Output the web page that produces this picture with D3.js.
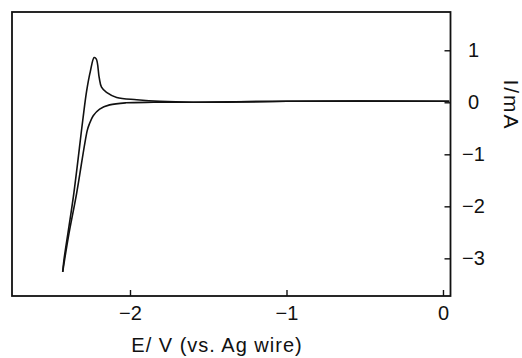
<!DOCTYPE html>
<html>
<head>
<meta charset="utf-8">
<script src="https://cdn.jsdelivr.net/npm/d3@7"></script>
<style>
  body { margin: 0; background: #fff; }
  svg text { font-family: "Liberation Sans", Arial, sans-serif; fill: #111; }
</style>
</head>
<body>
<div id="chart"></div>
<script>
// forward scan: 0 V -> -2.43 V (potential E / V, current I / mA)
var forwardE = [0.04, -1.0, -1.6, -1.85, -2.025, -2.13, -2.194, -2.235, -2.26, -2.273, -2.341, -2.394, -2.43];
var forwardI = [0.02, 0.02, 0.0, 0.0, -0.01, -0.05, -0.13, -0.26, -0.42, -0.54, -1.75, -2.59, -3.26];
// reverse scan: -2.43 V -> 0 V
var reverseE = [-2.43, -2.422, -2.362, -2.302, -2.277, -2.253, -2.229, -2.215, -2.197, -2.182, -2.15, -2.085, -1.957, -1.808, -1.597, -1.0, 0.04];
var reverseI = [-3.26, -3.03, -1.82, -0.35, 0.22, 0.6, 0.86, 0.83, 0.48, 0.29, 0.19, 0.094, 0.05, 0.017, 0.0, 0.02, 0.02];

var xTicks = [-2, -1, 0];
var yTicks = [1, 0, -1, -2, -3];

var W = 522, H = 358;
var margin = {top: 12, right: 71.5, bottom: 62, left: 12};
var width = W - margin.left - margin.right;
var height = H - margin.top - margin.bottom;

var svg = d3.select('#chart').append('svg')
    .attr('width', W)
    .attr('height', H);

var g = svg.append('g')
    .attr('transform', 'translate(' + margin.left + ',' + margin.top + ')');

var x = d3.scaleLinear().domain([-2.754, 0.048]).range([0, width]);
var y = d3.scaleLinear().domain([-3.724, 1.736]).range([height, 0]);

function toPoints(es, is) {
    return es.map(function(e, i) { return [e, is[i]]; });
}

var line = d3.line()
    .x(function(d) { return x(d[0]); })
    .y(function(d) { return y(d[1]); })
    .curve(d3.curveCatmullRom.alpha(0.5));

// frame
g.append('rect')
    .attr('width', width)
    .attr('height', height)
    .attr('fill', 'none')
    .attr('stroke', '#111')
    .attr('stroke-width', 1.8);

var fmt = d3.format('d');

var xAxis = d3.axisBottom(x).tickValues(xTicks).tickFormat(fmt)
    .tickSize(-6).tickSizeOuter(0).tickPadding(10);
var gx = g.append('g')
    .attr('transform', 'translate(0,' + height + ')')
    .call(xAxis);
gx.select('.domain').remove();
gx.selectAll('line').attr('stroke', '#111').attr('stroke-width', 1.4);
gx.selectAll('text').style('font-size', '20px').attr('fill', '#111');

var yAxis = d3.axisRight(y).tickValues(yTicks).tickFormat(fmt)
    .tickSize(-6).tickSizeOuter(0);
var gy = g.append('g')
    .attr('transform', 'translate(' + width + ',0)')
    .call(yAxis);
gy.select('.domain').remove();
gy.selectAll('line').attr('stroke', '#111').attr('stroke-width', 1.4);
gy.selectAll('text')
    .attr('x', 23)
    .attr('text-anchor', 'middle')
    .style('font-size', '20px')
    .attr('fill', '#111');

// curves
g.append('path')
    .datum(toPoints(forwardE, forwardI))
    .attr('fill', 'none')
    .attr('stroke', '#111')
    .attr('stroke-width', 1.6)
    .attr('d', line);

g.append('path')
    .datum(toPoints(reverseE, reverseI))
    .attr('fill', 'none')
    .attr('stroke', '#111')
    .attr('stroke-width', 1.6)
    .attr('d', line);

// axis titles
svg.append('text')
    .attr('x', 217)
    .attr('y', 352)
    .attr('text-anchor', 'middle')
    .style('font-size', '20px')
    .style('letter-spacing', '1px')
    .text('E/ V (vs. Ag  wire)');

svg.append('text')
    .attr('transform', 'translate(504,105) rotate(90)')
    .attr('text-anchor', 'middle')
    .style('font-size', '21px')
    .style('letter-spacing', '2px')
    .text('I/mA');
</script>
</body>
</html>
